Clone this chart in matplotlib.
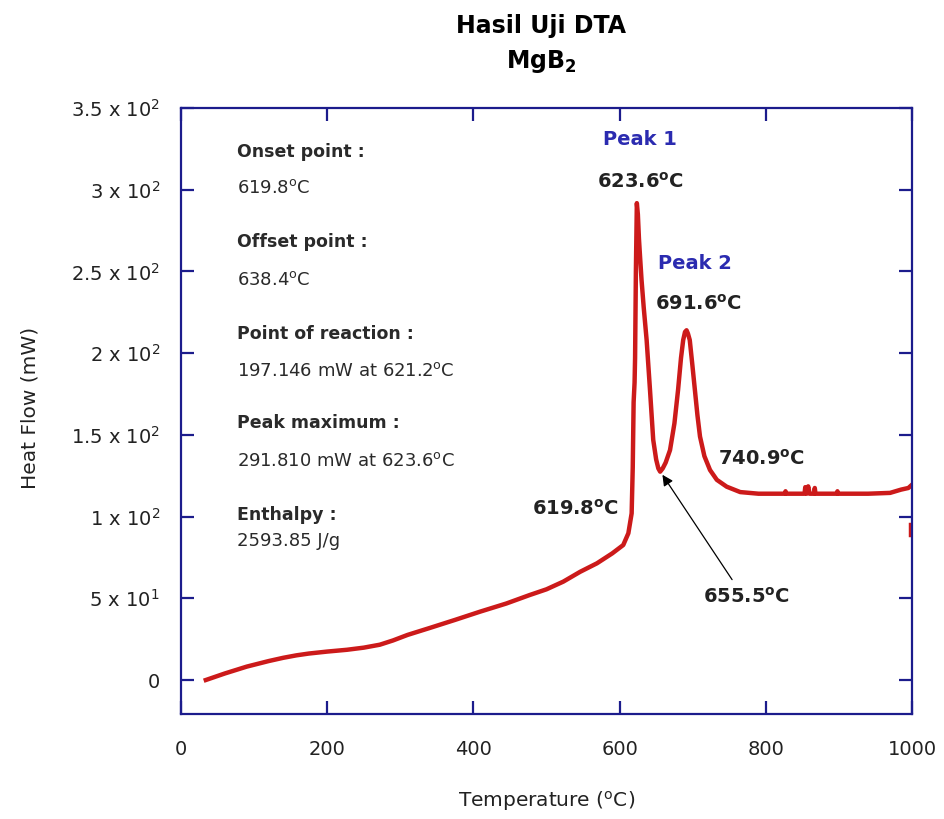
import matplotlib.pyplot as plt

# DTA curve of MgB2 (temperature in degC, heat flow in mW)
temperature = [34, 60, 90, 120, 140, 158, 175, 200, 227, 250, 272, 290, 310,
               340, 375, 409, 445, 477, 500, 523, 546, 569, 590, 605, 612,
               616.5, 618, 619.2, 620.5, 621.2, 622.3, 623.6, 625, 626.5, 628,
               630, 633, 637, 641.6, 646, 650, 653, 655.5, 659, 663, 669, 675,
               680, 684, 687, 689.5, 691.6, 693.5, 696, 699.5, 703, 706.5, 710,
               716, 723.7, 733, 746.5, 765, 790, 826, 827, 828, 853, 854, 856,
               858, 860, 866, 867, 868, 897, 898, 899, 940, 970, 985, 995,
               1000]
heat_flow = [0, 4, 8.2, 11.6, 13.6, 15.1, 16.2, 17.4, 18.5, 19.8, 21.6, 24.2,
             27.6, 31.8, 36.8, 41.8, 46.8, 52, 55.5, 60.2, 66.2, 71.4, 77.5,
             82.6, 89.8, 102, 130, 170, 182, 197.1, 250, 291.8, 285, 270, 259,
             245, 228, 208, 177.5, 147, 135, 129.5, 127.5, 129.5, 133, 140.7,
             157, 177.5, 197, 208, 213, 214, 212, 208, 193, 177.5, 162, 149,
             137, 128.5, 122.5, 118.3, 115, 114, 114, 115.5, 114, 114, 118,
             114, 118.5, 114, 114, 117.5, 114, 114, 115.5, 114, 114, 114.5,
             116.5, 117.5, 119.5]
# single stray reading at the end of the run
tail_t = [999, 999]
tail_hf = [88.5, 95]

x_ticks = [0, 200, 400, 600, 800, 1000]
y_ticks = [0, 50, 100, 150, 200, 250, 300, 350]
y_tick_labels = ['0', '5 x 10$^{1}$', '1 x 10$^{2}$', '1.5 x 10$^{2}$',
                 '2 x 10$^{2}$', '2.5 x 10$^{2}$', '3 x 10$^{2}$',
                 '3.5 x 10$^{2}$']

info_lines = [
    ('Onset point :', 'bold', 323),
    ('619.8$^{\\mathrm{o}}$C', 'normal', 301),
    ('Offset point :', 'bold', 268),
    ('638.4$^{\\mathrm{o}}$C', 'normal', 245),
    ('Point of reaction :', 'bold', 212),
    ('197.146 mW at 621.2$^{\\mathrm{o}}$C', 'normal', 189),
    ('Peak maximum :', 'bold', 157),
    ('291.810 mW at 623.6$^{\\mathrm{o}}$C', 'normal', 134),
    ('Enthalpy :', 'bold', 101),
    ('2593.85 J/g', 'normal', 85),
]

navy = '#1c1c8c'
red = '#cc1a1a'
blue = '#2b2bb0'

fig = plt.figure(figsize=(9.44, 8.19), dpi=100)
ax = fig.add_axes([0.1917, 0.1282, 0.7744, 0.7399])

ax.plot(temperature, heat_flow, color=red, lw=3.2, solid_joinstyle='round')
ax.plot(tail_t, tail_hf, color=red, lw=3.2)

ax.set_xlim(0, 1000)
ax.set_ylim(-20.8, 350)
ax.set_xticks(x_ticks)
ax.set_xticklabels([str(t) for t in x_ticks])
ax.set_yticks(y_ticks)
ax.set_yticklabels(y_tick_labels)

for s in ax.spines.values():
    s.set_color(navy)
    s.set_linewidth(1.6)
ax.tick_params(direction='in', length=9.5, width=1.6, color=navy,
               top=True, right=True, labelsize=14, labelcolor='#222222')
ax.tick_params(axis='x', pad=19)
ax.tick_params(axis='y', pad=15)

# parameter block on the left
for txt, weight, y in info_lines:
    ax.text(76.5, y, txt, fontsize=12.5 if weight == 'bold' else 13,
            fontweight=weight, color='#2a2a2a', va='center', ha='left')

# peak annotations
ax.text(628, 330.5, 'Peak 1', color=blue, fontsize=14, fontweight='bold',
        ha='center', va='center')
ax.text(629, 305, '623.6$^{\\mathbf{o}}$C', color='#222222', fontsize=14,
        fontweight='bold', ha='center', va='center')
ax.text(703, 255, 'Peak 2', color=blue, fontsize=14, fontweight='bold',
        ha='center', va='center')
ax.text(708, 230.5, '691.6$^{\\mathbf{o}}$C', color='#222222', fontsize=14,
        fontweight='bold', ha='center', va='center')
ax.text(794, 135.5, '740.9$^{\\mathbf{o}}$C', color='#222222', fontsize=14,
        fontweight='bold', ha='center', va='center')
ax.text(540, 105, '619.8$^{\\mathbf{o}}$C', color='#222222', fontsize=14,
        fontweight='bold', ha='center', va='center')
ax.text(774, 51, '655.5$^{\\mathbf{o}}$C', color='#222222', fontsize=14,
        fontweight='bold', ha='center', va='center')
ax.annotate('', xy=(656.5, 127), xytext=(756, 60),
            arrowprops=dict(arrowstyle='-|>', color='black', lw=0.9,
                            mutation_scale=16))

fig.text(0.573, 0.9593, 'Hasil Uji DTA', fontsize=17, fontweight='bold',
         ha='center', va='baseline')
fig.text(0.573, 0.9166, 'MgB$_{\\mathbf{2}}$', fontsize=17, fontweight='bold',
         ha='center', va='baseline')
fig.text(0.579, 0.022, 'Temperature ($^{\\mathrm{o}}$C)', fontsize=14.5,
         ha='center', va='center', color='#222222')
fig.text(0.032, 0.502, 'Heat Flow (mW)', fontsize=14.5, rotation=90,
         ha='center', va='center', color='#222222')

fig.savefig('out.png', dpi=100)
